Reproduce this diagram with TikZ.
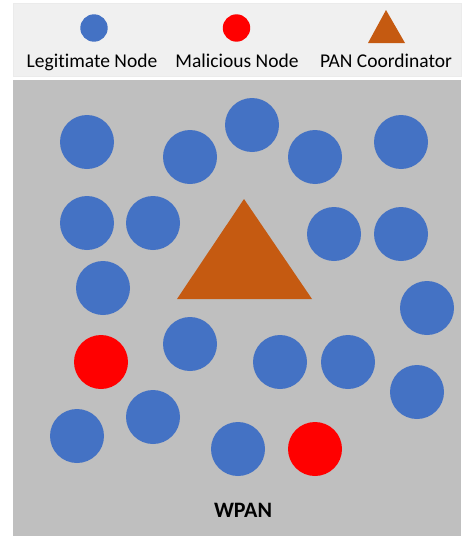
\documentclass[tikz,border=0pt]{standalone}
\usepackage{fontspec}
\setmainfont[Ligatures=NoCommon]{Carlito}
\definecolor{legitblue}{HTML}{4472C4}
\definecolor{coordorange}{HTML}{C55A11}
\definecolor{panfill}{HTML}{BFBFBF}
\definecolor{legendfill}{HTML}{F0F0F0}
\tikzset{
	legit/.style={fill=legitblue},
	malicious/.style={fill=red},
	coordtri/.style={fill=coordorange},
	legendtext/.style={font=\fontsize{19.5}{22}\selectfont, inner sep=0pt, anchor=base}
}
\def\wnode[#1](#2){\fill[#1] (#2) circle (27pt);}

\begin{document}
\begin{tikzpicture}[x=1pt, y=-1pt]
		%%%%% START %%%%%
		\useasboundingbox (0, 0) rectangle (461, 538);
		
		% legend
		\draw[fill=legendfill, draw=black!8] (13, 3) rectangle (461, 76);
		\fill[legit] (94, 28) circle (13.7pt);
		\fill[malicious] (236.5, 28) circle (13.7pt);
		\fill[coordtri] (386, 10) -- (405, 43) -- (368, 43) -- cycle;
		\node[legendtext] (legitlbl) at (92, 67) {Legitimate Node};
		\node[legendtext] (maliclbl) at (237, 67) {Malicious Node};
		\node[legendtext] (coordlbl) at (386, 67) {PAN Coordinator};
		
		% network area
		\fill[panfill] (13, 80) rectangle (461, 536);
		
		\fill[coordtri] (244, 199) -- (312, 299) -- (177, 299) -- cycle;
		
		\wnode[legit](87, 142)
		\wnode[legit](190, 157)
		\wnode[legit](252, 125)
		\wnode[legit](315, 157)
		\wnode[legit](401, 142)
		
		\wnode[legit](87, 223)
		\wnode[legit](153, 223)
		\wnode[legit](334, 234)
		\wnode[legit](401, 234)
		\wnode[legit](103, 288)
		\wnode[legit](427, 308)
		
		\wnode[legit](190, 344)
		\wnode[legit](280, 362)
		\wnode[legit](348, 362)
		\wnode[legit](417, 392)
		\wnode[legit](153, 417)
		\wnode[legit](77, 436)
		\wnode[legit](238, 449)
		
		\wnode[malicious](101, 362)
		\wnode[malicious](315, 449)
		
		\node[font=\fontsize{22}{24}\selectfont\bfseries, inner sep=0pt, anchor=base] (wpanlbl) at (243, 517) {WPAN};
		
		%%%%% END %%%%%
	\end{tikzpicture}
\end{document}
